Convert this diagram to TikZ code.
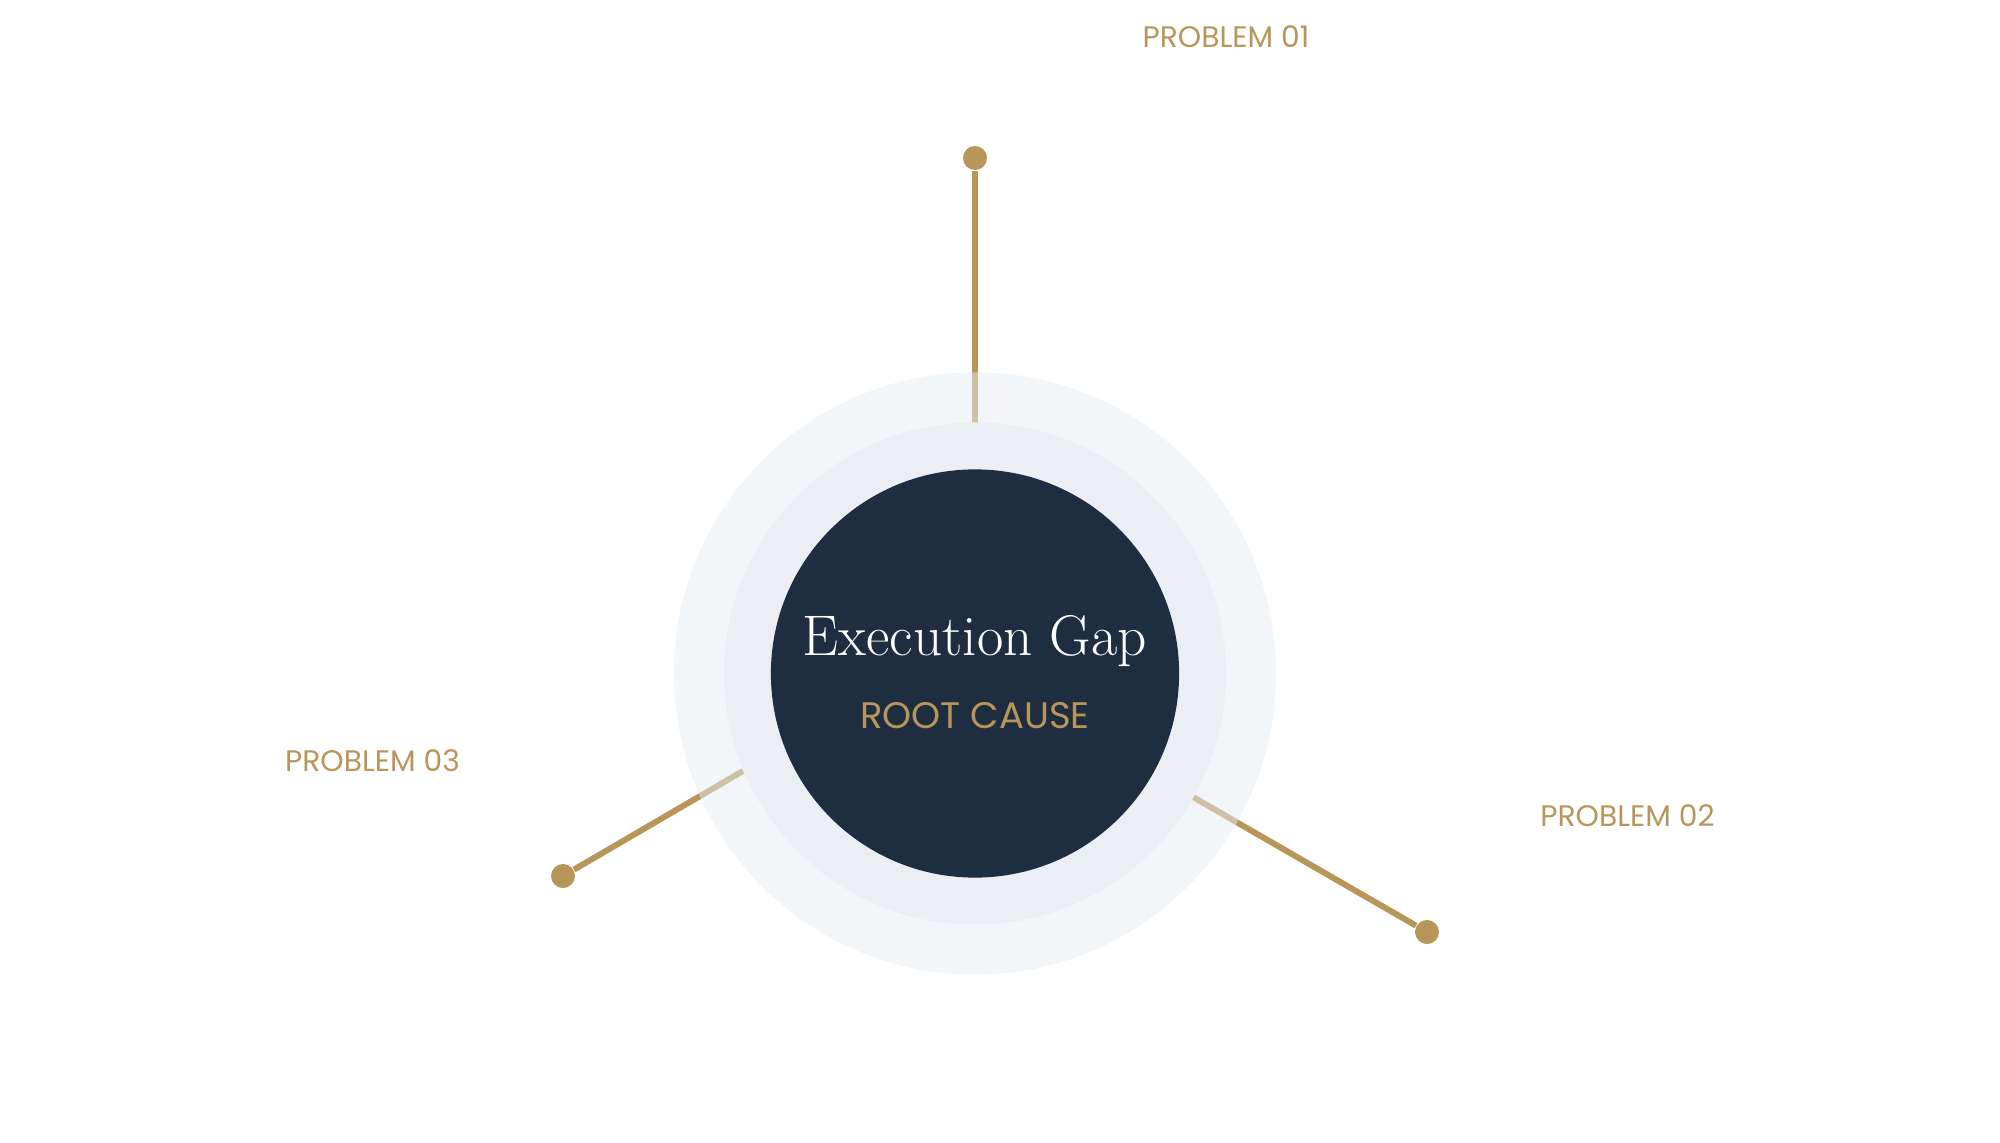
\documentclass[tikz,border=0pt]{standalone}
\usepackage{fontspec}
\newfontfamily\capsfont{Poppins}
\usetikzlibrary{positioning}
\definecolor{gold}{HTML}{B8965A}
\definecolor{navy}{HTML}{1E2D40}
\definecolor{haloout}{HTML}{E7EDF3}
\definecolor{haloin}{HTML}{EBEFF3}

\begin{document}
\begin{tikzpicture}[x=0.01cm,y=-0.01cm,
dot/.style={circle,fill=gold,inner sep=0pt,minimum size=0.24cm},
spoke/.style={draw=gold,line width=1.7pt},
disc/.style={circle,inner sep=0pt},
tag/.style={font=\capsfont\fontsize{8.45}{10}\selectfont,text=gold,inner sep=0pt}]
\useasboundingbox (0,0) rectangle (2000,1143);
\coordinate (c) at (975,673.5);
% spokes with end dots
\node[dot] (d1) at (975,158) {};
\node[dot] (d2) at (1427,932) {};
\node[dot] (d3) at (563,876) {};
\coordinate (e1) at (975,423);
\coordinate (e2) at (1193,797);
\coordinate (e3) at (743,771);
\draw[spoke] (d1)--(e1);\draw[spoke] (d2)--(e2);\draw[spoke] (d3)--(e3);
% halo rings and core
\node[disc,fill=haloout,fill opacity=.5,minimum size=6.02cm] (outer) at (c) {};
\node[disc,fill=haloin,minimum size=5.02cm] (inner) at (c) {};
\node[disc,fill=navy,minimum size=4.08cm] (core) at (c) {};
\node[anchor=base,text=white,font=\fontsize{16.3}{19}\selectfont,inner sep=0pt] (title) at (975,655) {Execution Gap};
\node[anchor=base,text=gold,font=\capsfont\fontsize{10.5}{12}\selectfont,inner sep=0pt] (root) at ([yshift=-0.73cm]title.base) {ROOT CAUSE};
% labels
\node[tag] (p1) at (1226,37) {PROBLEM 01};
\node[tag] (p2) at (1627.5,816) {PROBLEM 02};
\node[tag] (p3) at (372.5,761) {PROBLEM 03};
\end{tikzpicture}
\end{document}
